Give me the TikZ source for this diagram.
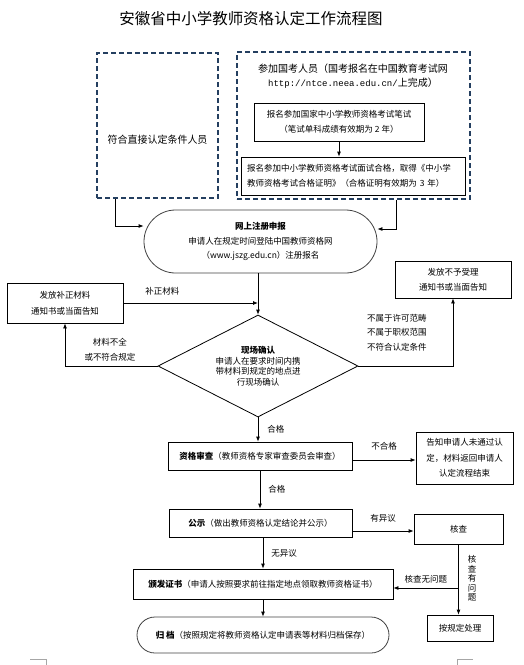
\documentclass[tikz,border=0pt]{standalone}
\usepackage{fontspec}
\setmainfont{Noto Sans CJK SC}
\newfontfamily\urlfont{Liberation Mono}
\usepackage{tikz}
\usetikzlibrary{positioning, shapes.geometric, shapes.misc, arrows.meta}
\definecolor{dashnavy}{HTML}{243F60}

\begin{document}
\begin{tikzpicture}[x=1pt, y=-1pt,
    box/.style={draw, line width=0.8pt, inner sep=2pt, align=center, font=\fontsize{8.5}{15}\selectfont},
    dbox/.style={draw=dashnavy, line width=1.6pt, dash pattern=on 5pt off 3pt, inner sep=0pt},
    pill/.style={box, rounded rectangle, draw=black!75},
    arr/.style={-{Latex[length=5pt,width=4pt]}, line width=0.8pt},
    lbl/.style={font=\fontsize{8.5}{15}\selectfont, align=center, inner sep=0pt}]
    \useasboundingbox (0,0) rectangle (523,665);

    % Title
    \node (title) at (251,19) {\fontsize{15.5}{18}\selectfont 安徽省中小学教师资格认定工作流程图};

    % Two groups of applicants
    \node[dbox, minimum width=121pt, minimum height=145pt] (direct) at (157.5,125.5) {};
    \node[lbl, font=\fontsize{10}{14}\selectfont] (directtxt) at (157.5,140) {符合直接认定条件人员};
    \node[dbox, minimum width=233pt, minimum height=147pt] (exam) at (353.5,125.5) {};
    \node[lbl, font=\fontsize{10}{14}\selectfont] (examtxt) at (353,76)
      {参加国考人员（国考报名在中国教育考试网\\{\urlfont\fontsize{9}{14}\selectfont http://ntce.neea.edu.cn/}上完成）};
    \node[box, minimum width=170pt, minimum height=38pt] (written) at (339,122)
      {报名参加国家中小学教师资格考试笔试\\（笔试单科成绩有效期为 2 年）};
    \node[box, minimum width=224pt, minimum height=38pt, text width=212pt, align=left] (interview) at (353,176)
      {报名参加中小学教师资格考试面试合格，取得《中小学\\教师资格考试合格证明》（合格证明有效期为 3 年）};

    % Online registration and on-site check
    \node[pill, minimum width=237pt, minimum height=63pt, font=\fontsize{8.5}{14.5}\selectfont] (register) at (260.5,241.5)
      {\textbf{网上注册申报}\\申请人在规定时间登陆中国教师资格网\\（www.jszg.edu.cn）注册报名};
    \node[box, minimum width=116pt, minimum height=40pt, font=\fontsize{8.5}{16}\selectfont] (supplement) at (65,303)
      {发放补正材料\\通知书或当面告知};
    \node[box, minimum width=116pt, minimum height=37pt] (reject) at (453,279.5)
      {发放不予受理\\通知书或当面告知};
    \node[draw, diamond, aspect=2, line width=0.8pt, inner sep=0pt, minimum width=200pt, minimum height=102pt,
      align=center, font=\fontsize{8.5}{10.5}\selectfont] (confirm) at (258,366)
      {\textbf{现场确认}\\申请人在要求时间内携\\带材料到规定的地点进\\行现场确认};

    % Review, publicity, certificate
    \node[box, minimum width=184pt, minimum height=28pt] (review) at (260,456)
      {\textbf{资格审查}（教师资格专家审查委员会审查）};
    \node[box, minimum width=97pt, minimum height=52pt, font=\fontsize{8.5}{15.5}\selectfont] (fail) at (464.5,458)
      {告知申请人未通过认\\定，材料返回申请人\\认定流程结束};
    \node[box, minimum width=183pt, minimum height=28pt] (publicity) at (260.5,523)
      {\textbf{公示}（做出教师资格认定结论并公示）};
    \node[box, minimum width=89pt, minimum height=30pt] (verify) at (458.5,529) {核查};
    \node[box, minimum width=260pt, minimum height=30pt] (issue) at (263,584)
      {\textbf{颁发证书}（申请人按照要求前往指定地点领取教师资格证书）};
    \node[box, minimum width=66pt, minimum height=26pt] (handle) at (460,628) {按规定处理};
    \node[pill, minimum width=256pt, minimum height=36pt] (archive) at (263,635)
      {\textbf{归 档}（按照规定将教师资格认定申请表等材料归档保存）};

    % Connectors
    \draw[arr] ([xshift=19pt]direct.south west) |- ([yshift=15.5pt]register.west);
    \draw[arr] ([xshift=-74pt]exam.south east) |- ([yshift=12.5pt]register.east);
    \draw[arr] (written.south) -- (written.south |- interview.north);
    \draw[arr] (register.south -| confirm.north) -- (confirm.north);
    \draw[arr] (supplement.east) -- (supplement.east -| confirm.north)
      node[lbl, pos=0.29, above=7pt] {补正材料};
    \draw[arr] (confirm.west) -| (supplement.south);
    \draw[arr] (confirm.east) -| (reject.south);
    \draw[arr] (confirm.south) -- (confirm.south |- review.north)
      node[lbl, midway, right=9pt] {合格};
    \draw[arr] ([yshift=-4pt]review.east) -- ([yshift=-4pt]review.east -| fail.west)
      node[lbl, midway, above=9pt] {不合格};
    \draw[arr] (review.south) -- (review.south |- publicity.north)
      node[lbl, midway, right=8pt] {合格};
    \draw[arr] ([yshift=-8pt]publicity.east) -- ([yshift=-8pt]publicity.east -| verify.west)
      node[lbl, midway, above=8pt] {有异议};
    \draw[arr] (publicity.south -| issue.north) -- (issue.north)
      node[lbl, midway, right=8pt] {无异议};
    \draw[arr] (verify.south) -- (verify.south |- handle.north);
    \draw[arr] ([yshift=-4pt]verify.south |- issue.east) -- ([yshift=-4pt]issue.east)
      node[lbl, midway, above=4pt] {核查无问题};
    \draw[arr] (issue.south) -- (archive.north);

    % Labels on the branches
    \node[lbl] (nomaterial) at (110,349.5) {材料不全\\或不符合规定};
    \node[lbl, align=left, anchor=west, font=\fontsize{8.5}{14.5}\selectfont] (noscope) at (367,332.5)
      {不属于许可范畴\\不属于职权范围\\不符合认定条件};
    \node[lbl, font=\fontsize{8.5}{9.5}\selectfont] (problem) at (472,578.5) {核\\查\\有\\问\\题};

    % Page corner marks
    \draw[black!35, line width=0.5pt] (30,659) -- (46,659) -- (46,665);
    \draw[black!35, line width=0.5pt] (457,665) -- (457,659) -- (473,659);
\end{tikzpicture}
\end{document}
